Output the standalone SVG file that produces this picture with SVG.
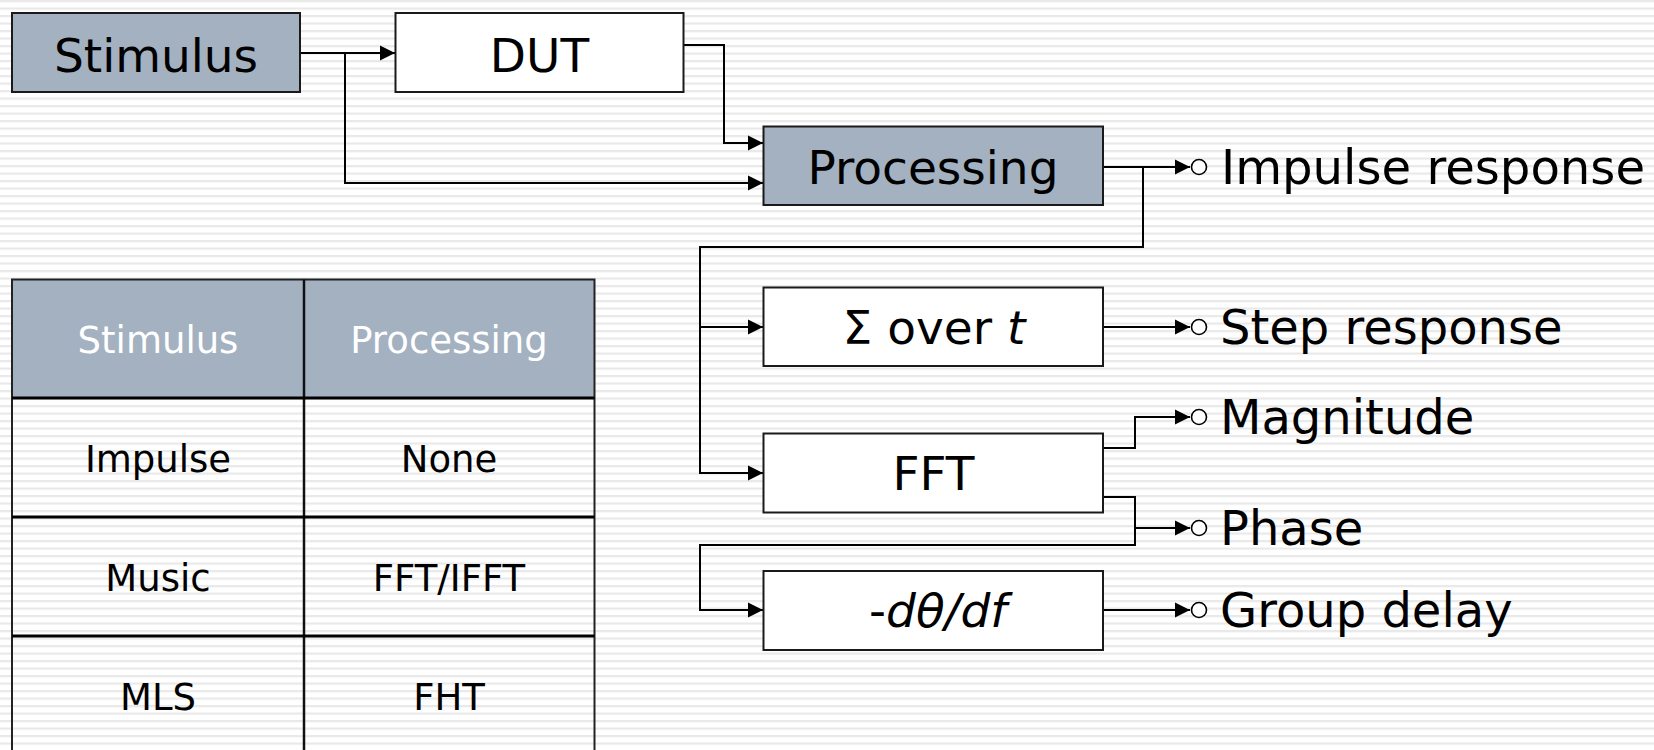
<svg xmlns="http://www.w3.org/2000/svg" width="1654" height="750" viewBox="0 0 1654 750">
  <defs>
    <pattern id="stripes" x="0" y="0" width="20" height="7.5" patternUnits="userSpaceOnUse">
      <rect x="0" y="0" width="20" height="7.5" fill="#ffffff"/>
      <rect x="0" y="0" width="20" height="2.2" fill="#e9e9e9"/>
    </pattern>
    <marker id="arrow" markerUnits="userSpaceOnUse" markerWidth="16" markerHeight="16" viewBox="0 0 16 16" refX="15" refY="8" orient="auto">
      <path d="M0,0.5 L15,8 L0,15.5 Z" fill="#000"/>
    </marker>
    <style>
      .box { stroke: #1a1a1a; stroke-width: 2; }
      .shaded { fill: #a3b1c1; }
      .plain { fill: #ffffff; }
      .lbl { font-family: "DejaVu Sans", Verdana, sans-serif; font-size: 47px; fill: #000; }
      .out { font-family: "DejaVu Sans", Verdana, sans-serif; font-size: 48px; fill: #000; }
      .tbl { font-family: "DejaVu Sans", Verdana, sans-serif; font-size: 37px; fill: #000; text-anchor: middle; }
      .tblh { fill: #ffffff; }
      .wire { fill: none; stroke: #000; stroke-width: 2; }
      .port { fill: #ffffff; stroke: #000; stroke-width: 1.6; }
    </style>
  </defs>

  <rect x="0" y="0" width="1654" height="750" fill="url(#stripes)"/>

  <g id="connectors">
    <path class="wire" d="M300,53 H395" marker-end="url(#arrow)"/>
    <path class="wire" d="M345,53 V183 H763" marker-end="url(#arrow)"/>
    <path class="wire" d="M683,45 H724 V143 H763" marker-end="url(#arrow)"/>
    <path class="wire" d="M1103,167 H1190" marker-end="url(#arrow)"/>
    <path class="wire" d="M1143,167 V247 H700 V473 H763" marker-end="url(#arrow)"/>
    <path class="wire" d="M700,327 H763" marker-end="url(#arrow)"/>
    <path class="wire" d="M1103,327 H1190" marker-end="url(#arrow)"/>
    <path class="wire" d="M1103,448 H1135 V417 H1190" marker-end="url(#arrow)"/>
    <path class="wire" d="M1103,497 H1135 V545 H700 V610 H763" marker-end="url(#arrow)"/>
    <path class="wire" d="M1135,528 H1190" marker-end="url(#arrow)"/>
    <path class="wire" d="M1103,610 H1190" marker-end="url(#arrow)"/>
    <circle class="port" cx="1199" cy="167" r="7.5"/>
    <circle class="port" cx="1199" cy="327" r="7.5"/>
    <circle class="port" cx="1199" cy="417" r="7.5"/>
    <circle class="port" cx="1199" cy="528" r="7.5"/>
    <circle class="port" cx="1199" cy="610" r="7.5"/>
  </g>

  <g id="stimulus">
    <rect class="box shaded" x="12" y="13" width="288" height="79"/>
    <text class="lbl" x="156" y="72" text-anchor="middle">Stimulus</text>
  </g>
  <g id="dut">
    <rect class="box plain" x="395.5" y="13" width="288" height="79"/>
    <text class="lbl" x="539.5" y="72" text-anchor="middle">DUT</text>
  </g>
  <g id="processing">
    <rect class="box shaded" x="763.5" y="126.5" width="339.5" height="78.5"/>
    <text class="lbl" x="933" y="184" text-anchor="middle">Processing</text>
  </g>
  <g id="sum">
    <rect class="box plain" x="763.5" y="287.5" width="339.5" height="78.5"/>
    <text class="lbl" x="934" y="344" text-anchor="middle">Σ over <tspan font-style="italic">t</tspan></text>
  </g>
  <g id="fft">
    <rect class="box plain" x="763.5" y="433.5" width="339.5" height="79"/>
    <text class="lbl" x="933.5" y="490" text-anchor="middle">FFT</text>
  </g>
  <g id="deriv">
    <rect class="box plain" x="763.5" y="571" width="339.5" height="79"/>
    <text class="lbl" x="938" y="627" text-anchor="middle">-<tspan font-style="italic">dθ/df</tspan></text>
  </g>

  <g id="out-impulse"><text class="out" x="1221" y="183.5" textLength="424" lengthAdjust="spacingAndGlyphs">Impulse response</text></g>
  <g id="out-step"><text class="out" x="1220" y="344">Step response</text></g>
  <g id="out-magnitude"><text class="out" x="1220" y="433.5">Magnitude</text></g>
  <g id="out-phase"><text class="out" x="1220" y="545">Phase</text></g>
  <g id="out-group"><text class="out" x="1220" y="627">Group delay</text></g>

  <g id="table">
    <rect x="12" y="279.5" width="582.5" height="118.5" fill="#a3b1c1"/>
    <rect x="12" y="279.5" width="582.5" height="480" fill="none" stroke="#222" stroke-width="2"/>
    <line x1="304" y1="279.5" x2="304" y2="750" stroke="#111" stroke-width="2.5"/>
    <line x1="12" y1="398" x2="594.5" y2="398" stroke="#000" stroke-width="3"/>
    <line x1="12" y1="517" x2="594.5" y2="517" stroke="#000" stroke-width="3"/>
    <line x1="12" y1="636" x2="594.5" y2="636" stroke="#000" stroke-width="3"/>
    <text class="tbl tblh" x="158" y="353">Stimulus</text>
    <text class="tbl tblh" x="449" y="353">Processing</text>
    <text class="tbl" x="158" y="472">Impulse</text>
    <text class="tbl" x="449" y="472">None</text>
    <text class="tbl" x="158" y="591">Music</text>
    <text class="tbl" x="449" y="591">FFT/IFFT</text>
    <text class="tbl" x="158" y="710">MLS</text>
    <text class="tbl" x="449" y="710">FHT</text>
  </g>
</svg>
